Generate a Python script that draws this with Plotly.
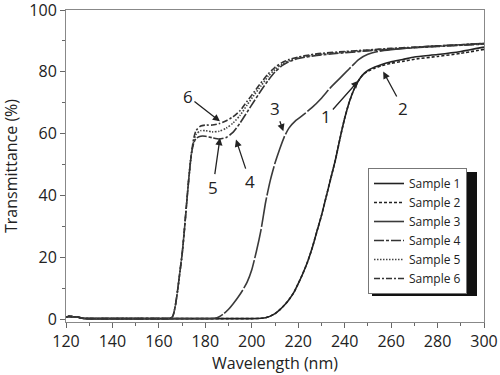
import plotly.graph_objects as go

# ---------------- data ----------------
base_wl = [120, 121, 123, 125, 127, 130, 140, 150, 160, 164]
base_t = [0.6, 0.9, 0.8, 0.7, 0.3, 0.2, 0.2, 0.2, 0.2, 0.2]

wl_456 = base_wl + [165, 166, 167, 168, 169, 170, 171, 172, 173, 174, 175, 176, 178, 180, 183, 186,
                    189, 192, 195, 198, 201, 204, 207, 210, 213, 216, 220, 225, 230, 240, 250,
                    260, 270, 280, 290, 300]
rise_456 = [0.3, 1.0, 4.0, 9.0, 15.0, 21.0, 29.0, 38.0, 46.5, 53.5]
s6 = base_t + rise_456 + [58.5, 61.0, 62.5, 62.8, 62.8, 63.3, 64.2, 65.5, 67.5, 70.5, 73.5, 76.5,
                          79.3, 81.5, 83.0, 84.0, 84.8, 85.5, 86.0, 86.6, 87.1, 87.6, 88.0, 88.4,
                          88.8, 89.2]
s5 = base_t + rise_456 + [57.5, 59.8, 61.0, 61.0, 60.6, 60.8, 61.8, 63.5, 66.0, 69.3, 72.5, 75.5,
                          78.5, 80.8, 82.5, 83.6, 84.5, 85.2, 85.7, 86.4, 87.0, 87.5, 87.9, 88.3,
                          88.7, 89.1]
s4 = base_t + rise_456 + [57.0, 58.5, 59.2, 59.2, 58.7, 58.3, 58.8, 60.5, 63.5, 67.0, 70.5, 74.0,
                          77.2, 80.0, 82.0, 83.3, 84.3, 85.0, 85.5, 86.2, 86.8, 87.3, 87.8, 88.2,
                          88.6, 89.0]

wl_3 = base_wl + [170, 180, 184, 186, 188, 190, 192, 194, 196, 198, 200, 202, 204, 206, 208, 210,
                  212, 214, 216, 219, 222, 226, 230, 234, 238, 242, 246, 250, 255, 260, 270, 280,
                  290, 300]
s3 = base_t + [0.2, 0.2, 0.3, 0.8, 1.8, 3.2, 5.0, 7.0, 9.3, 12.0, 16.0, 22.0, 29.0, 38.0, 45.0,
               50.5, 55.0, 59.0, 61.8, 64.3, 66.0, 68.5, 71.5, 75.0, 78.0, 81.0, 84.0, 85.7, 86.7,
               87.2, 87.9, 88.4, 88.8, 89.2]

wl_12 = base_wl + [170, 180, 190, 200, 204, 206, 208, 210, 212, 214, 216, 218, 220, 222, 224, 226,
                   228, 230, 232, 234, 236, 238, 240, 242, 244, 246, 248, 250, 253, 256, 260, 265,
                   270, 280, 290, 300]
rise_12 = [0.2, 0.2, 0.2, 0.2, 0.3, 0.5, 1.0, 1.8, 3.0, 4.5, 6.3, 8.5, 11.5, 14.8, 18.5, 23.0,
           28.3, 33.5, 39.5, 45.5, 51.5, 58.5, 65.0, 70.3, 74.3, 77.2, 79.2]
s1 = base_t + rise_12 + [80.5, 81.6, 82.4, 83.3, 84.0, 84.8, 85.6, 86.6, 88.0]
s2 = base_t + rise_12 + [80.2, 81.2, 82.0, 82.8, 83.4, 84.1, 85.0, 86.0, 87.3]

names = ["Sample 1", "Sample 2", "Sample 3", "Sample 4", "Sample 5", "Sample 6"]
xs = [wl_12, wl_12, wl_3, wl_456, wl_456, wl_456]
ys = [s1, s2, s3, s4, s5, s6]
dashes = ["solid", "3px,2px", "30px,2px", "10px,2px,3px,2px", "1.5px,1.5px", "6px,2px,2px,2px"]
colors = ["#222222", "#222222", "#3a3a3a", "#333333", "#444444", "#333333"]

x_ticks = [120, 140, 160, 180, 200, 220, 240, 260, 280, 300]
y_ticks = [0, 20, 40, 60, 80, 100]

# annotation labels: tip position in data units, text offset in px
labels = ["1", "2", "3", "4", "5", "6"]
tip_x = [245.9, 256.6, 213.6, 193.2, 186.3, 186.3]
tip_y = [77.1, 80.1, 60.8, 58.1, 58.6, 64.0]
off_x = [-32, 20, -8, 14, -7, -32]
off_y = [36, 37, -23, 42, 49, -25]

W, H = 500, 375
ML, MR, MT, MB = 66, 16, 10, 53
PW, PH = W - ML - MR, H - MT - MB

fig = go.Figure()
for n, x, y, d, c in zip(names, xs, ys, dashes, colors):
    fig.add_trace(go.Scatter(x=x, y=y, name=n, mode="lines",
                             line=dict(color=c, width=1.6, dash=d, shape="spline", smoothing=0.6)))

for t, tx, ty, ox, oy in zip(labels, tip_x, tip_y, off_x, off_y):
    fig.add_annotation(x=tx, y=ty, ax=ox, ay=oy, text=t, showarrow=True,
                       arrowhead=2, arrowsize=1.1, arrowwidth=1.3, arrowcolor="#222",
                       font=dict(size=17, color="#222", family="Open Sans"))

# legend box placement (px in page) and its drop shadow
LG_L, LG_T, LG_R, LG_B = 368, 168, 473, 292
fig.add_shape(type="rect", xref="paper", yref="paper",
              x0=(LG_L + 4 - ML) / PW, x1=(LG_R + 4 - ML) / PW,
              y0=(H - MB - (LG_B + 4)) / PH, y1=(H - MB - (LG_T + 4)) / PH,
              fillcolor="#111", line=dict(width=0), layer="above")

axis_common = dict(showline=True, linecolor="#888", linewidth=1, mirror=True,
                   ticks="outside", ticklen=5, tickcolor="#666", tickwidth=1,
                   showgrid=False, zeroline=False, automargin=False,
                   ticklabeloverflow="allow",
                   tickfont=dict(size=16, color="#222", family="Open Sans"),
                   minor=dict(ticks="outside", ticklen=3, tickcolor="#666", showgrid=False))

fig.update_xaxes(range=[120, 300], tickvals=x_ticks, minor_dtick=10,
                 title=dict(text="Wavelength (nm)", font=dict(size=16, color="#222", family="Open Sans"), standoff=4),
                 **axis_common)
fig.update_yaxes(range=[-0.9, 100.02], tickvals=y_ticks, minor_dtick=10,
                 title=dict(text="Transmittance (%)", font=dict(size=16, color="#222", family="Open Sans"), standoff=20),
                 **axis_common)

fig.update_layout(
    width=W, height=H,
    margin=dict(l=ML, r=MR, t=MT, b=MB, autoexpand=False),
    plot_bgcolor="white", paper_bgcolor="white",
    font=dict(family="Open Sans", color="#222"),
    legend=dict(x=(LG_L - ML) / PW, y=(H - MB - LG_T) / PH, xanchor="left", yanchor="top",
                bgcolor="white", bordercolor="#777", borderwidth=1,
                font=dict(size=12, color="#222", family="Open Sans"),
                tracegroupgap=0, itemwidth=30),
)

fig.write_html("out.html", config={"displayModeBar": False},
               post_script="document.body.style.margin='0';document.body.style.overflow='hidden';")
